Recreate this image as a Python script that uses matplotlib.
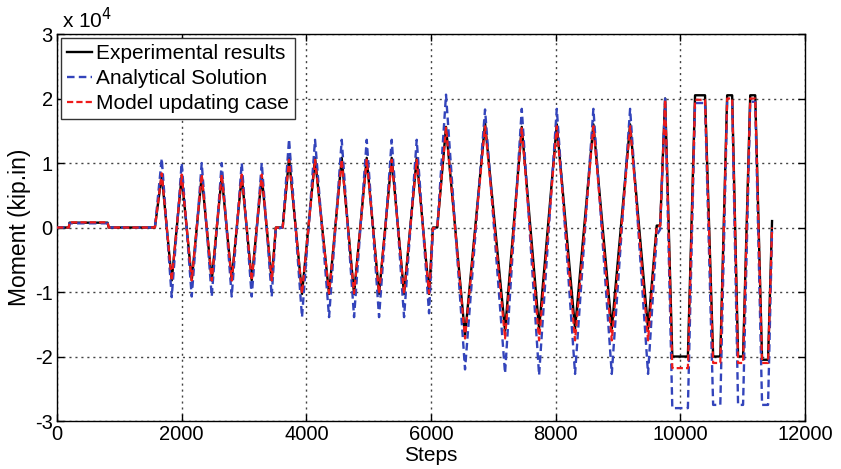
import matplotlib
matplotlib.use("Agg")
import matplotlib.pyplot as plt
from matplotlib.ticker import FuncFormatter

# ---- data (turning points of the loading history) ----
steps = [0, 190, 200, 810, 830, 1570,
         1680, 1840, 2000, 2161, 2321, 2482, 2642, 2802, 2963, 3123, 3284, 3444,
         3510, 3620,
         3722, 3930, 4139, 4364, 4567, 4765, 4968, 5166, 5369, 5567, 5770, 5968,
         6030, 6100,
         6240, 6545, 6866, 7187, 7455, 7733, 8017, 8310, 8604, 8899, 9193, 9481,
         9620, 9675, 9755, 9870, 10120, 10235, 10395, 10525, 10640, 10750, 10830,
         10925, 11005, 11120, 11200, 11310, 11406, 11470]

experimental = [0, 0, 750, 750, 0, 0,
                8200, -8200, 8000, -8200, 8000, -8200, 8000, -8200, 8000, -8200, 8000, -8200,
                0, 0,
                10800, -10300, 10800, -10300, 10800, -10300, 10800, -10300, 10800, -10300, 10800, -10300,
                0, 0,
                15600, -16800, 16200, -16000, 15600, -15700, 16000, -15700, 16000, -15700, 16000, -15700,
                300, 300, 20000, -20000, -20000, 20500, 20500, -20000, -20000, 20500, 20500,
                -20000, -20000, 20500, 20500, -20500, -20500, 1000]

analytical = [0, 0, 650, 650, 0, 0,
              10700, -10800, 10000, -10700, 10000, -10700, 10000, -10700, 10000, -10700, 10000, -10700,
              -200, 0,
              13700, -13900, 13600, -13900, 13600, -13900, 13600, -13900, 13600, -13900, 13600, -13300,
              -300, 0,
              20600, -22000, 18300, -22600, 18400, -22900, 18400, -22700, 18400, -22700, 18400, -22700,
              -1200, -300, 20000, -28000, -28000, 19300, 19300, -27500, -27500, 19500, 19500,
              -27500, -27500, 19500, 19500, -27500, -27500, -500]

model_updating = [0, 0, 800, 800, 0, 0,
                  8400, -8200, 8200, -8200, 8200, -8200, 8200, -8200, 8200, -8200, 8200, -8200,
                  0, 0,
                  10500, -10200, 10500, -10200, 10500, -10200, 10500, -10200, 10500, -10200, 10500, -10200,
                  -100, 0,
                  15500, -17200, 15700, -17200, 15400, -17500, 15700, -17500, 15700, -17500, 15700, -17500,
                  200, 200, 19800, -21800, -21800, 19800, 19800, -21000, -21000, 20000, 20000,
                  -21000, -21000, 20000, 20000, -21000, -21000, 0]

legend_labels = ["Experimental results", "Analytical Solution", "Model updating case"]
x_ticks = [0, 2000, 4000, 6000, 8000, 10000, 12000]
y_ticks = [-30000, -20000, -10000, 0, 10000, 20000, 30000]

# ---- figure ----
plt.rcParams['font.family'] = ['Liberation Sans', 'DejaVu Sans']
fig = plt.figure(figsize=(8.41, 4.69), dpi=100)
ax = fig.add_axes([0.0678, 0.1023, 0.8895, 0.8252])

ax.plot(steps, experimental, color='black', lw=1.7, label=legend_labels[0], zorder=3)
ax.plot(steps, analytical, color='#3344bb', lw=1.7, ls=(0, (3.2, 1.8)), label=legend_labels[1], zorder=4)
ax.plot(steps, model_updating, color='#ee1a1a', lw=1.6, ls=(0, (2.8, 1.4)), label=legend_labels[2], zorder=5)

ax.set_xlim(0, 12000)
ax.set_ylim(-30000, 30000)
ax.set_xticks(x_ticks)
ax.set_yticks(y_ticks)
ax.yaxis.set_major_formatter(FuncFormatter(lambda v, p: f"{v/1e4:g}"))
ax.tick_params(direction='in', top=True, right=True, labelsize=14.5, length=5, width=1, pad=3)
for s in ax.spines.values():
    s.set_linewidth(1.0)

ax.grid(True, color='#222222', ls=(0, (1.5, 2.8)), lw=1.0, alpha=0.85)
ax.set_axisbelow(True)

ax.set_xlabel("Steps", fontsize=15, labelpad=1)
ax.set_ylabel("Moment (kip.in)", fontsize=16.5, labelpad=3)
ax.text(0.006, 1.005, r"x 10$^4$", transform=ax.transAxes, fontsize=15, ha='left', va='bottom')

leg = ax.legend(loc='upper left', fontsize=15, frameon=True, fancybox=False,
                framealpha=1, edgecolor='#333333', handlelength=1.2, handletextpad=0.15,
                borderpad=0.3, labelspacing=0.28, borderaxespad=0.2)
leg.get_frame().set_linewidth(1.0)

fig.savefig("out.png", dpi=100)
